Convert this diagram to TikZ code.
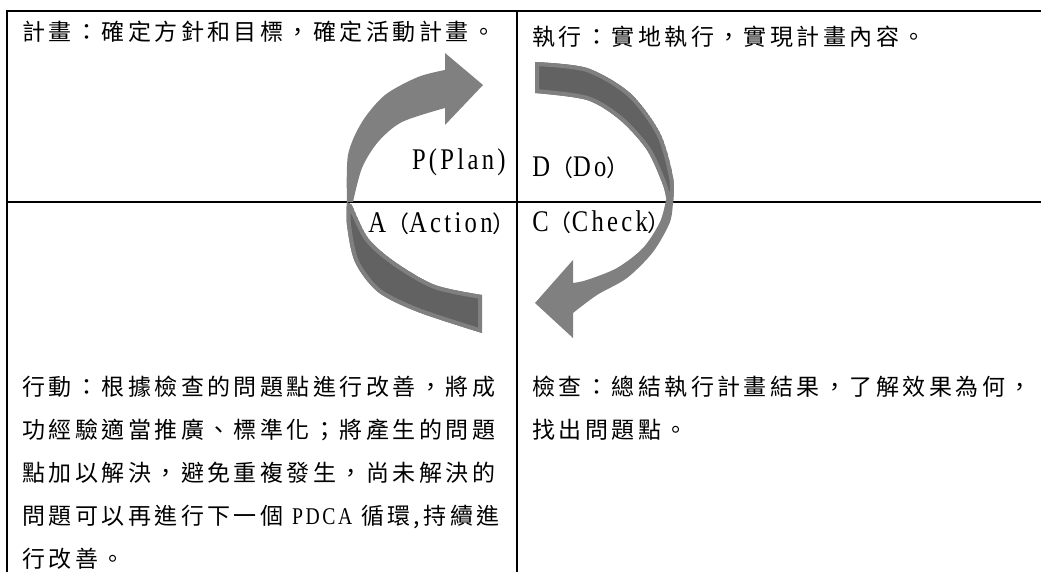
\documentclass[tikz,border=0pt]{standalone}
\usepackage{fontspec}
\usepackage{tikz}
\usetikzlibrary{positioning}
\newfontfamily\cjkfont{Noto Sans CJK TC}[LetterSpace=15]
\newfontfamily\latfont{Liberation Serif}[FakeStretch=0.82,LetterSpace=11]
\newcommand{\ltn}[1]{{\latfont\fontsize{15}{17}\selectfont #1}}
\definecolor{pdcalight}{HTML}{808080}
\definecolor{pdcadark}{HTML}{626262}

% back faces of the two ribbons
\newcommand{\backPA}{(347,202) -- plot[smooth] coordinates {(347,202) (347,225) (355,262) (378,292) (418,312) (482,333)}
  -- (482,295) -- plot[smooth] coordinates {(482,295) (435,285) (395,262) (368,238) (352,205)} -- cycle}
\newcommand{\backDC}{(535,62) -- plot[smooth] coordinates {(535,62) (587,68) (630,93) (660,133) (673,177) (673,203)}
  -- (667,203) -- plot[smooth] coordinates {(667,203) (663,185) (647,150) (620,120) (587,100) (535,93)} -- cycle}

\begin{document}
\begin{tikzpicture}[
  x=0.5pt, y=-0.5pt,
  rule/.style={line width=1pt, draw=black},
  cell/.style={anchor=north west, inner sep=0pt, align=left,
    font=\cjkfont\fontsize{11.5}{21.4}\selectfont},
  head/.style={inner sep=0pt, font=\cjkfont\fontsize{11.5}{13}\selectfont},
  front/.style={fill=pdcalight},
  back/.style={fill=pdcadark},
  rim/.style={draw=pdcalight, line width=4pt},
]
  \useasboundingbox (0,0) rectangle (1041,572);

  % Table rules
  \draw[rule] (7,572) -- (7,11) -- (1041,11);
  \draw[rule] (7,202) -- (1041,202);
  \draw[rule] (517,11) -- (517,572);

  % Cell texts
  \node[cell, anchor=base west] (plan) at (22,41) {計畫：確定方針和目標，確定活動計畫。};
  \node[cell, anchor=base west] (do) at (532,46) {執行：實地執行，實現計畫內容。};
  \node[cell] (act) at (22,376) {行動：根據檢查的問題點進行改善，將成\\
    功經驗適當推廣、標準化；將產生的問題\\
    點加以解決，避免重複發生，尚未解決的\\
    問題可以再進行下一個 {\latfont\fontsize{12}{21.4}\selectfont PDCA} 循環,持續進\\
    行改善。};
  \node[cell] (check) at (532,376) {檢查：總結執行計畫結果，了解效果為何，\\
    找出問題點。};

  % A -> P ribbon
  \fill[front] (347,202) -- plot[smooth] coordinates {(347,202) (348,155) (362,122) (385,95) (418,77) (445,70)}
    -- (445,53) -- (483,85) -- (445,125) -- (445,108)
    -- plot[smooth] coordinates {(445,108) (402,122) (378,142) (362,168) (353,202)} -- cycle;
  \begin{scope}
    \clip \backPA;
    \fill[back] \backPA;
    \draw[rim] \backPA;
  \end{scope}

  % D -> C ribbon
  \begin{scope}
    \clip \backDC;
    \fill[back] \backDC;
    \draw[rim] \backDC;
  \end{scope}
  \fill[front] (673,200) -- plot[smooth] coordinates {(673,200) (670,222) (653,252) (627,278) (597,295) (573,313)}
    -- (573,338) -- (535,303) -- (573,260) -- (573,283)
    -- plot[smooth] coordinates {(573,283) (587,280) (617,268) (643,248) (660,222) (666,200)} -- cycle;

  % Phase labels
  \node[head, anchor=base east] (p) at (506,170) {\ltn{P(Plan)}};
  \node[head, anchor=base east] (a) at (516,233) {\ltn{A}（\ltn{Action}）};
  \node[head, anchor=base west] (d) at (532,177) {\ltn{D}（\ltn{Do}）};
  \node[head, anchor=base west] (c) at (532,232) {\ltn{C}（\ltn{Check}）};
\end{tikzpicture}
\end{document}
